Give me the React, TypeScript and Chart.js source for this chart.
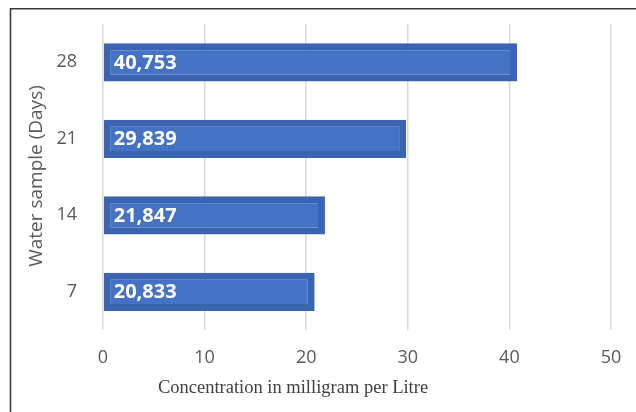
import React, { useEffect, useRef } from "react";
import { Chart, registerables } from "chart.js";

Chart.register(...registerables);

// Sampling days and measured concentrations (mg/L)
const days: string[] = ["7", "14", "21", "28"];
const concentration: number[] = [20.833, 21.847, 29.839, 40.753];
const xTicks: number[] = [0, 10, 20, 30, 40, 50];

const xTitle = "Concentration in milligram per Litre";
const yTitle = "Water sample (Days)";

const fmt = (v: number) =>
  v.toLocaleString("de-DE", { minimumFractionDigits: 3, maximumFractionDigits: 3 });

const valueLabels = {
  id: "valueLabels",
  afterDatasetsDraw(chart: any) {
    const ctx = chart.ctx;
    const meta = chart.getDatasetMeta(0);
    ctx.save();
    ctx.fillStyle = "#ffffff";
    ctx.font = 'bold 20px "Open Sans"';
    ctx.textAlign = "left";
    ctx.textBaseline = "middle";
    meta.data.forEach((bar: any, i: number) => {
      const v = chart.data.datasets[0].data[i] as number;
      ctx.fillText(fmt(v), bar.base + 10, bar.y + 1);
    });
    ctx.restore();
  },
};

const frameAndTitles = {
  id: "frameAndTitles",
  afterDraw(chart: any) {
    const ctx = chart.ctx;
    ctx.save();
    // outer frame (top and left edges)
    ctx.strokeStyle = "#3a3a3a";
    ctx.lineWidth = 1.6;
    ctx.beginPath();
    ctx.moveTo(10.5, 412);
    ctx.lineTo(10.5, 8.8);
    ctx.lineTo(636, 8.8);
    ctx.stroke();

    // x-axis title
    ctx.fillStyle = "#404040";
    ctx.font = '18.5px "Liberation Serif"';
    ctx.textAlign = "center";
    ctx.textBaseline = "middle";
    ctx.fillText(xTitle, 293, 388);

    // y-axis title
    ctx.fillStyle = "#595959";
    ctx.font = '19px "Open Sans"';
    ctx.translate(37, 176);
    ctx.rotate(-Math.PI / 2);
    ctx.fillText(yTitle, 0, 0);
    ctx.restore();
  },
};

export default function App() {
  const ref = useRef<HTMLCanvasElement | null>(null);

  useEffect(() => {
    if (!ref.current) return;
    const chart = new Chart(ref.current, {
      type: "bar",
      data: {
        labels: days,
        datasets: [
          {
            data: concentration,
            backgroundColor: "#4472c4",
            borderColor: "#3b64b0",
            borderWidth: 7,
            borderSkipped: false,
            categoryPercentage: 1,
            barPercentage: 0.5,
          },
        ],
      },
      plugins: [valueLabels, frameAndTitles],
      options: {
        indexAxis: "y",
        responsive: false,
        animation: false,
        layout: { padding: { top: 24, right: 25, left: 0, bottom: 0 } },
        plugins: {
          legend: { display: false },
          tooltip: { enabled: false },
        },
        scales: {
          x: {
            min: 0,
            max: 50,
            afterBuildTicks: (scale: any) => {
              scale.ticks = xTicks.map((v) => ({ value: v }));
            },
            afterFit: (scale: any) => {
              scale.height = 82;
              scale.paddingLeft = 0;
              scale.paddingRight = 0;
            },
            grid: { color: "#d9d9d9", lineWidth: 1.5, drawTicks: false },
            border: { display: false },
            ticks: {
              color: "#595959",
              font: { family: "Open Sans", size: 18 },
              padding: 17,
            },
          },
          y: {
            reverse: true,
            afterFit: (scale: any) => {
              scale.width = 103;
              scale.paddingTop = 0;
              scale.paddingBottom = 0;
            },
            grid: { display: false, drawTicks: false },
            border: { display: false },
            ticks: {
              color: "#595959",
              font: { family: "Open Sans", size: 18 },
              padding: 26,
            },
          },
        },
      },
    });
    return () => chart.destroy();
  }, []);

  return (
    <div style={{ position: "fixed", left: 0, top: 0, width: 636, height: 412, background: "#ffffff" }}>
      <canvas ref={ref} width={636} height={412} style={{ display: "block" }} />
    </div>
  );
}
